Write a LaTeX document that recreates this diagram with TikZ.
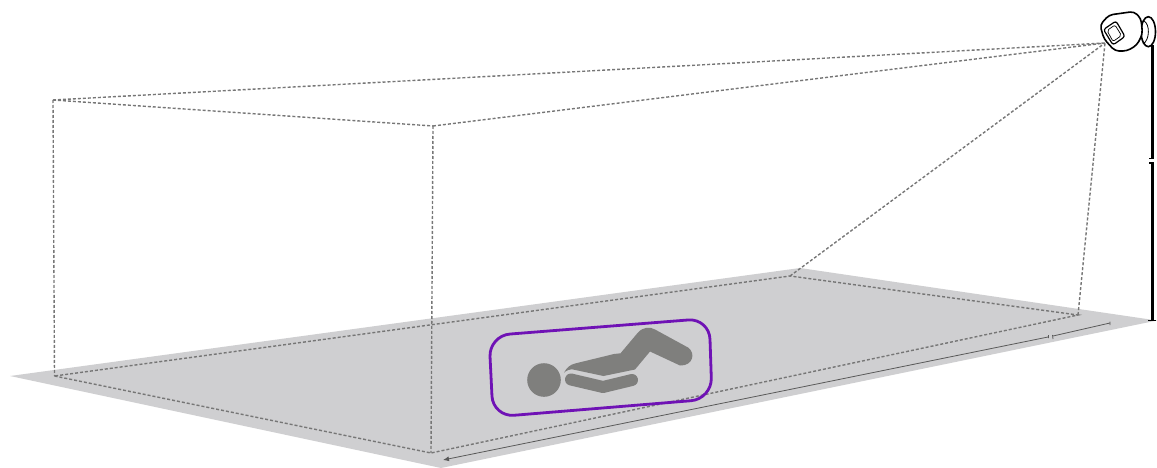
\documentclass[tikz,border=0pt]{standalone}
\usetikzlibrary{arrows.meta}
\definecolor{floorc}{HTML}{CFCFD1}
\definecolor{personc}{HTML}{7F7F7D}
\definecolor{dotc}{HTML}{767676}
\definecolor{purp}{HTML}{6F12B5}
\tikzset{
  sight/.style={draw=dotc,line width=1.4pt,dash pattern=on 3pt off 2pt},
  zoneline/.style={draw=purp,line width=2.8pt,rounded corners=21pt},
  pole/.style={draw=black,line width=3pt},
  polecap/.style={draw=black,line width=1.3pt},
  dimline/.style={draw=black!65,line width=0.8pt},
  camline/.style={draw=black,line width=1.6pt,fill=white},
  limb/.style={draw=personc,line width=12pt,line cap=round,line join=round},
}
\begin{document}
\begin{tikzpicture}[x=1pt,y=-1pt]
\useasboundingbox (0,0) rectangle (1157,468);
\coordinate (apex) at (1105,43);
\coordinate (tl) at (53,100);
\coordinate (tf) at (433,126);
\coordinate (fl) at (54.5,376);
\coordinate (ff) at (431,453);
\coordinate (fr) at (1078,315);
\coordinate (fb) at (790,276);
% floor
\fill[floorc] (10,376) -- (800,268) -- (1157,320.5) -- (441,468) -- cycle;
% sight volume
\draw[sight] (tl) -- (apex) (tf) -- (apex) (fb) -- (apex) (fr) -- (apex);
\draw[sight] (tl) -- (tf);
\draw[sight] (tl) -- (fl);
\draw[sight] (tf) -- (ff);
\draw[sight] (fl) -- (ff) -- (fr) -- (fb) -- cycle;
% person
\fill[personc] (544,380) circle (16.8);
\fill[personc] (564,372.7) .. controls (567,367) and (570,365) .. (575,363.5)
  -- (614,354) -- (620.5,353.3) -- (638,332.5)
  .. controls (643,327) and (650,326.5) .. (655,329.5)
  -- (688,347.5) .. controls (696,353) and (693,366) .. (680,365.5)
  -- (650,351.5) -- (635,369.5) -- (603.5,376) -- (573,369.5)
  .. controls (570,369) and (566,370.5) .. (564,372.7) -- cycle;
\draw[limb] (571,379.5) -- (603,387) -- (632,380);
% zone
\draw[zoneline] (489,335.7) -- (709.3,318.3) -- (712,399) -- (493,417) -- cycle;
% dimension line
\coordinate (d1) at (443,460);
\coordinate (d2) at (1048,337);
\coordinate (d3) at (1053,336);
\coordinate (d4) at (1110,323);
\draw[dimline,-{Latex[length=6pt,width=5pt]}] (d2) -- (d1);
\draw[dimline] (d3) -- (d4);
\draw[dimline] (1048.5,335) -- (1048.5,338) (1052.5,335) -- (1053,339) (1110,321.5) -- (1110,325);
% pole
\coordinate (p0) at (1152.5,45);
\coordinate (p1) at (1152.5,158);
\coordinate (p2) at (1152.5,163);
\coordinate (p3) at (1152.5,320.5);
\draw[pole] (p0) -- (p1);
\draw[pole] (p2) -- (p3);
\draw[polecap] (1149,158.3) -- (1154,158.3);
\draw[polecap] (1149,163) -- (1154,163);
\draw[polecap] (1148,320.5) -- (1155.5,320.5);
% camera
\draw[camline] (1148.3,31.7) ellipse [x radius=7.2,y radius=15];
\draw[black,line width=0.8pt] (1144,21) .. controls (1150,24) and (1150,40) .. (1143,44);
\draw[camline,rounded corners=4pt] (1100,25) -- (1109,15) -- (1134,11.5) -- (1141,18.5)
  -- (1142.5,34) -- (1137,45) -- (1127,51) -- (1115,51) -- (1104,39) -- cycle;
\draw[camline,line width=1.2pt,rounded corners=2.5pt] (1103.5,29.5) -- (1116,21) -- (1125,36.5) -- (1113,45) -- cycle;
\draw[black,line width=0.7pt,rounded corners=2pt] (1107,30.5) -- (1115,25) -- (1121.5,35.5) -- (1113,41.5) -- cycle;
\end{tikzpicture}
\end{document}
